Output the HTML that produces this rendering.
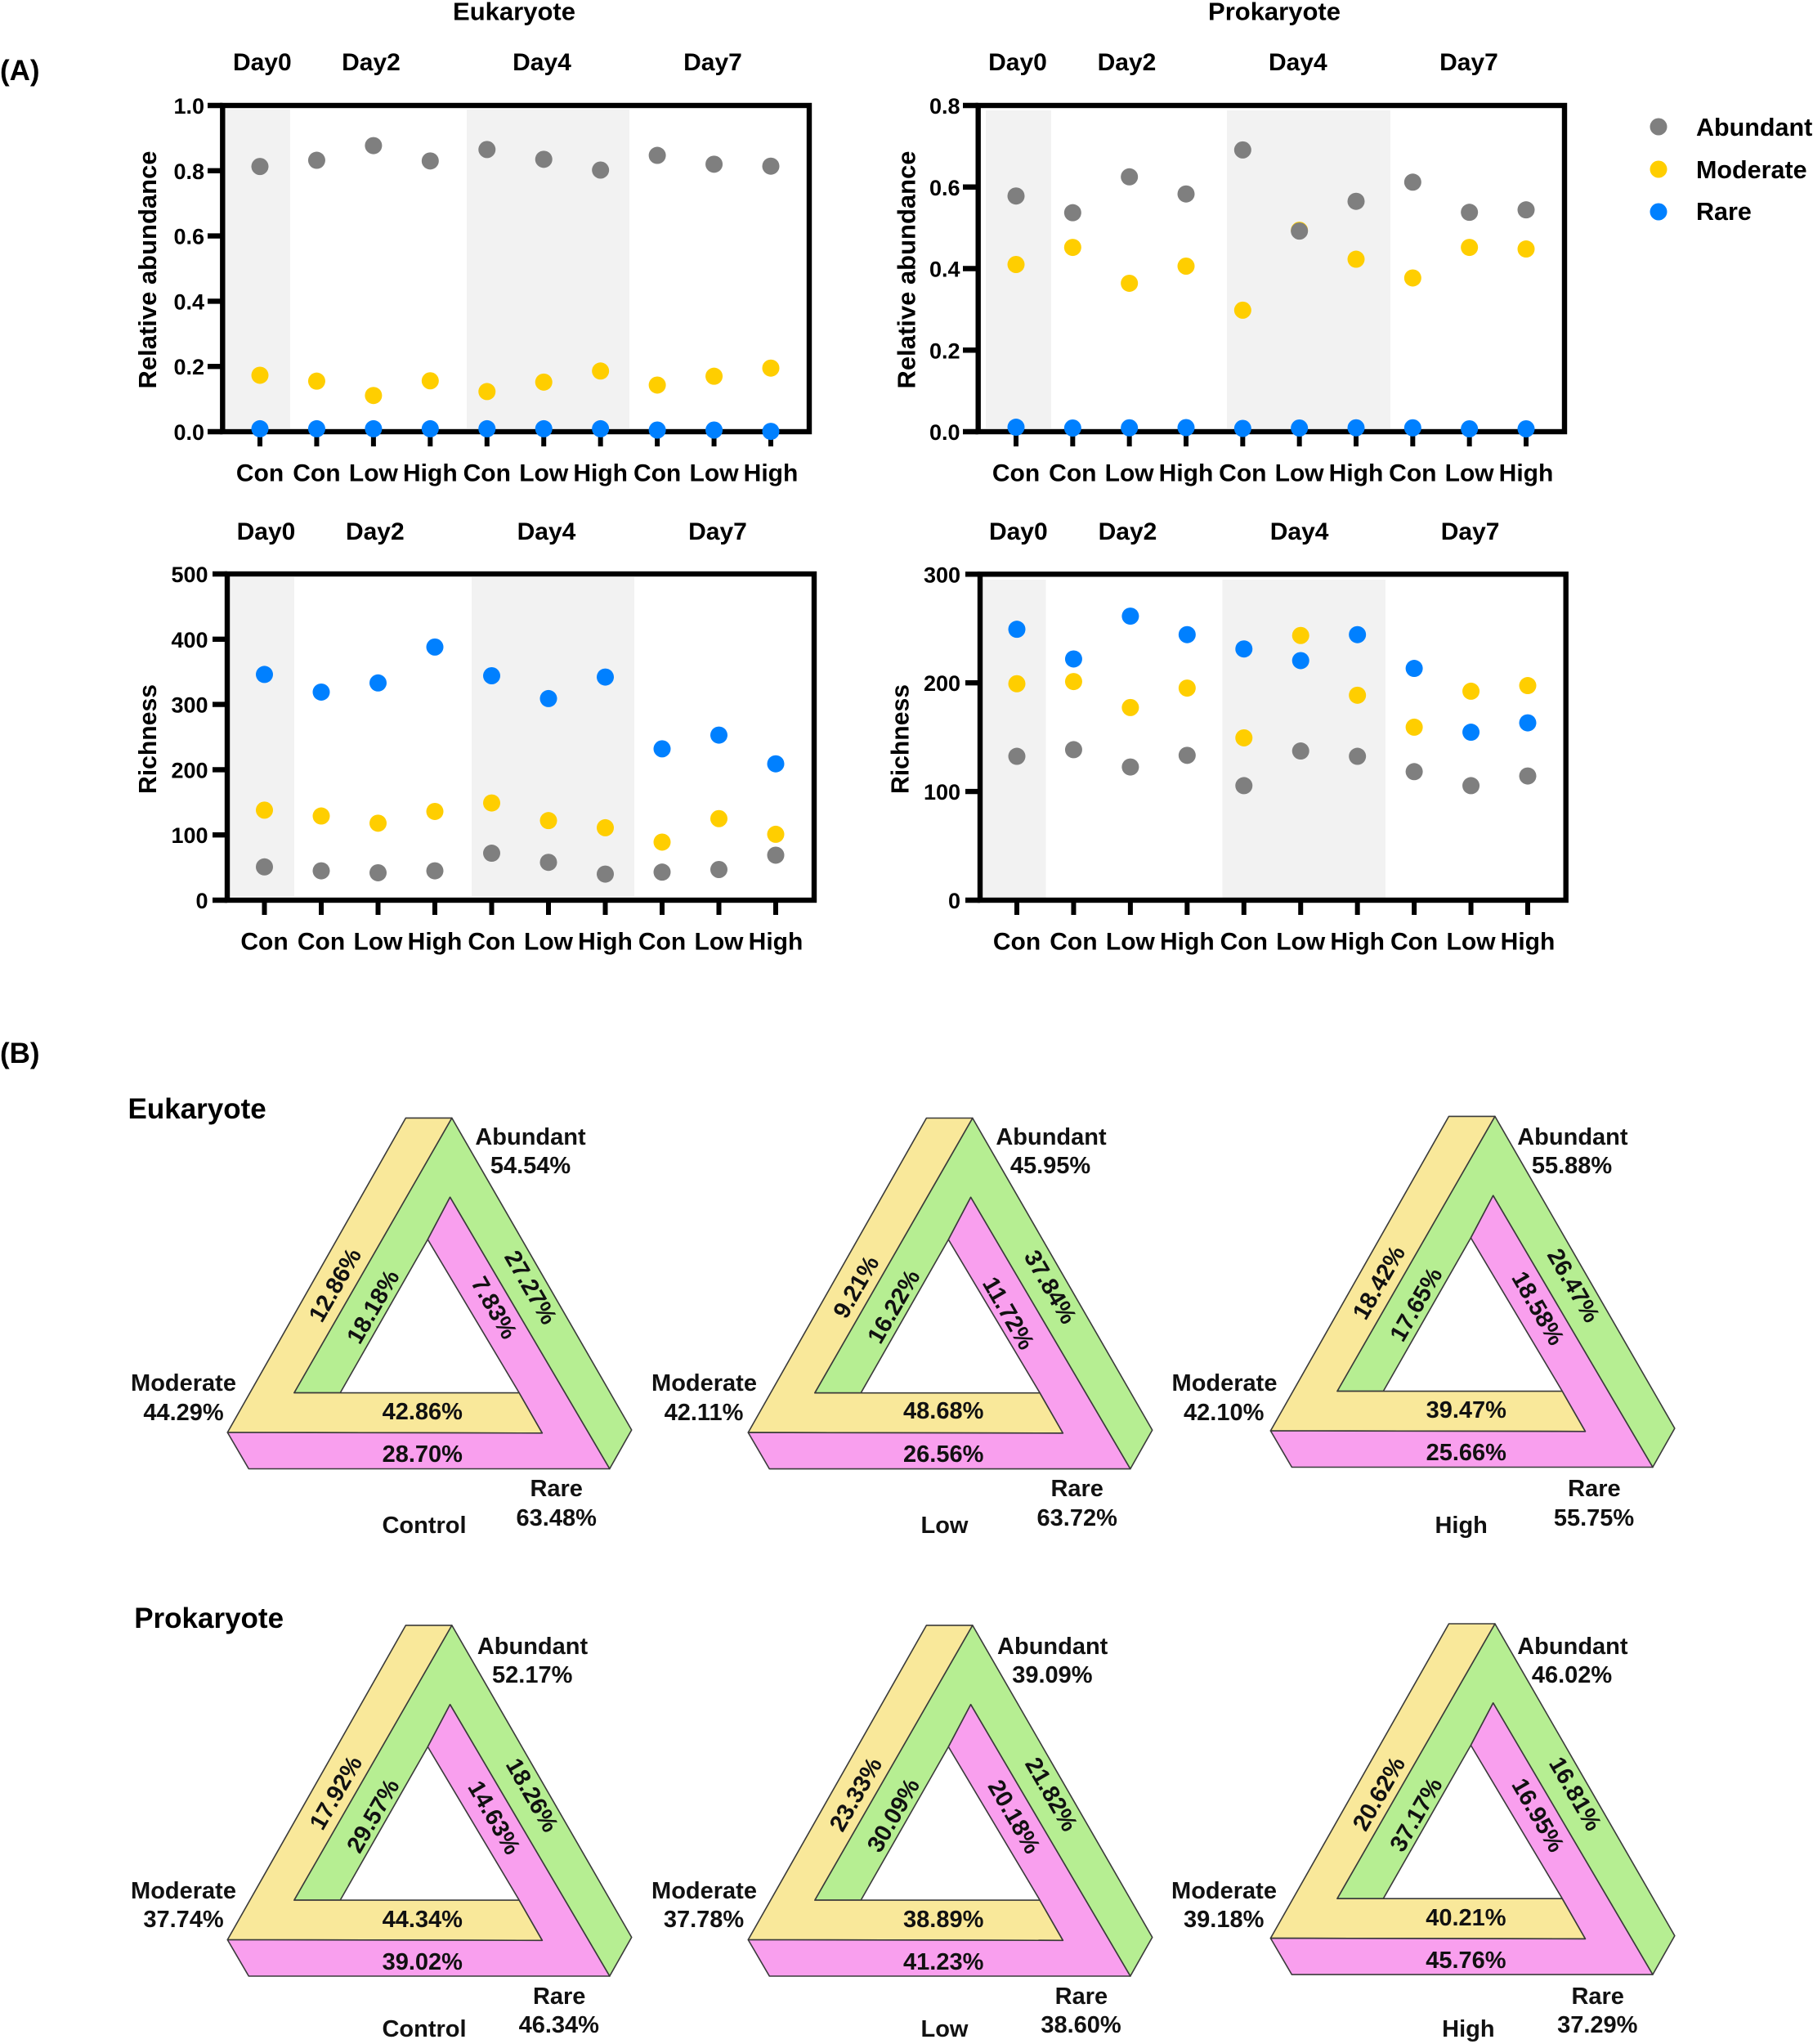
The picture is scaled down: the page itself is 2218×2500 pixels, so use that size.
<!DOCTYPE html>
<html lang="en">
<head>
<meta charset="utf-8">
<title>Relative abundance and richness of eukaryote and prokaryote taxa</title>
<style>
html,body{margin:0;padding:0;background:#fff;}
svg{display:block;font-family:"Liberation Sans",Arial,sans-serif;font-weight:bold;fill:#000;}
.t{font-size:29px;text-anchor:middle;fill:#111;}
.y{fill:#f9e89a;stroke:#3a3a3a;stroke-width:1.6;stroke-linejoin:round;}
.g{fill:#b6ee92;stroke:#3a3a3a;stroke-width:1.6;stroke-linejoin:round;}
.p{fill:#f99fee;stroke:#3a3a3a;stroke-width:1.6;stroke-linejoin:round;}
</style>
</head>
<body>
<svg id="figure" width="2218" height="2500" viewBox="0 0 2218 2500" xmlns="http://www.w3.org/2000/svg">
<rect width="2218" height="2500" fill="#fff"/>
<text x="0" y="98" font-size="35">(A)</text>
<text x="0" y="1300" font-size="35">(B)</text>
<text x="629" y="24.5" font-size="31" text-anchor="middle">Eukaryote</text>
<text x="1559" y="24.5" font-size="31" text-anchor="middle">Prokaryote</text>

<g id="charts"></g>

<g>
<circle cx="2029" cy="155" r="10.5" fill="#7f7f7f"/>
<text x="2075" y="166" font-size="30.5">Abundant</text>
<circle cx="2029" cy="207" r="10.5" fill="#ffce00"/>
<text x="2075" y="218" font-size="30.5">Moderate</text>
<circle cx="2029" cy="259" r="10.5" fill="#0080ff"/>
<text x="2075" y="269" font-size="30.5">Rare</text>
</g>

<text x="156.5" y="1368" font-size="35">Eukaryote</text>
<text x="164.2" y="1991" font-size="35">Prokaryote</text>

<!-- Eukaryote Control -->
<g>
<g transform="translate(496.4,1367.4)">
<polygon class="g" points="56.4,0 276.3,381.6 249.4,429.1 54.2,96.9 26.9,148.6 -80.2,336.2 -136.6,336.2"/>
<polygon class="y" points="0,0 56.4,0 -136.6,336.2 138.8,336.2 167,385.4 -218.1,384.6"/>
<polygon class="p" points="54.2,96.9 249.4,429.1 -192.1,429.1 -218.1,384.6 167,385.4 138.8,336.2 26.9,148.6"/>
</g>
<text class="t" x="649" y="1400">Abundant</text>
<text class="t" x="649" y="1435">54.54%</text>
<text class="t" x="224.5" y="1701">Moderate</text>
<text class="t" x="224.5" y="1737">44.29%</text>
<text class="t" x="680.7" y="1830">Rare</text>
<text class="t" x="680.7" y="1866">63.48%</text>
<text class="t" x="519" y="1875">Control</text>
<text class="t" x="516.8" y="1736">42.86%</text>
<text class="t" x="516.8" y="1788">28.70%</text>
<text class="t" y="10" transform="translate(409.7,1571.6) rotate(-60)">12.86%</text>
<text class="t" y="10" transform="translate(456.1,1598.2) rotate(-60)">18.18%</text>
<text class="t" y="10" transform="translate(649.5,1574.5) rotate(60)">27.27%</text>
<text class="t" y="10" transform="translate(604.8,1599.3) rotate(60)">7.83%</text>
</g>

<!-- Eukaryote Low -->
<g>
<g transform="translate(1133.4,1367.5)">
<polygon class="g" points="56.4,0 276.3,381.6 249.4,429.1 54.2,96.9 26.9,148.6 -80.2,336.2 -136.6,336.2"/>
<polygon class="y" points="0,0 56.4,0 -136.6,336.2 138.8,336.2 167,385.4 -218.1,384.6"/>
<polygon class="p" points="54.2,96.9 249.4,429.1 -192.1,429.1 -218.1,384.6 167,385.4 138.8,336.2 26.9,148.6"/>
</g>
<text class="t" x="1286" y="1400">Abundant</text>
<text class="t" x="1285" y="1435">45.95%</text>
<text class="t" x="861.5" y="1701">Moderate</text>
<text class="t" x="861" y="1737">42.11%</text>
<text class="t" x="1317.7" y="1830">Rare</text>
<text class="t" x="1317.7" y="1866">63.72%</text>
<text class="t" x="1155.5" y="1875">Low</text>
<text class="t" x="1154.2" y="1735">48.68%</text>
<text class="t" x="1154.2" y="1788">26.56%</text>
<text class="t" y="10" transform="translate(1047.1,1573.9) rotate(-60)">9.21%</text>
<text class="t" y="10" transform="translate(1093.1,1597.9) rotate(-60)">16.22%</text>
<text class="t" y="10" transform="translate(1285.2,1573.9) rotate(60)">37.84%</text>
<text class="t" y="10" transform="translate(1234,1606) rotate(60)">11.72%</text>
</g>

<!-- Eukaryote High -->
<g>
<g transform="translate(1772.5,1365.4)">
<polygon class="g" points="56.4,0 276.3,381.6 249.4,429.1 54.2,96.9 26.9,148.6 -80.2,336.2 -136.6,336.2"/>
<polygon class="y" points="0,0 56.4,0 -136.6,336.2 138.8,336.2 167,385.4 -218.1,384.6"/>
<polygon class="p" points="54.2,96.9 249.4,429.1 -192.1,429.1 -218.1,384.6 167,385.4 138.8,336.2 26.9,148.6"/>
</g>
<text class="t" x="1923.9" y="1400">Abundant</text>
<text class="t" x="1923" y="1435">55.88%</text>
<text class="t" x="1498" y="1701">Moderate</text>
<text class="t" x="1497.2" y="1737">42.10%</text>
<text class="t" x="1950.4" y="1830">Rare</text>
<text class="t" x="1950" y="1866">55.75%</text>
<text class="t" x="1787.7" y="1875">High</text>
<text class="t" x="1793.8" y="1734">39.47%</text>
<text class="t" x="1793.8" y="1786">25.66%</text>
<text class="t" y="10" transform="translate(1686.7,1568.6) rotate(-60)">18.42%</text>
<text class="t" y="10" transform="translate(1732.2,1595.4) rotate(-60)">17.65%</text>
<text class="t" y="10" transform="translate(1925.2,1572.1) rotate(60)">26.47%</text>
<text class="t" y="10" transform="translate(1881.8,1600) rotate(60)">18.58%</text>
</g>

<!-- Prokaryote Control -->
<g>
<g transform="translate(496.4,1987.9)">
<polygon class="g" points="56.4,0 276.3,381.6 249.4,429.1 54.2,96.9 26.9,148.6 -80.2,336.2 -136.6,336.2"/>
<polygon class="y" points="0,0 56.4,0 -136.6,336.2 138.8,336.2 167,385.4 -218.1,384.6"/>
<polygon class="p" points="54.2,96.9 249.4,429.1 -192.1,429.1 -218.1,384.6 167,385.4 138.8,336.2 26.9,148.6"/>
</g>
<text class="t" x="651.5" y="2023">Abundant</text>
<text class="t" x="651.2" y="2058">52.17%</text>
<text class="t" x="224.5" y="2322">Moderate</text>
<text class="t" x="224.5" y="2357">37.74%</text>
<text class="t" x="684.2" y="2451">Rare</text>
<text class="t" x="683.8" y="2486">46.34%</text>
<text class="t" x="519" y="2491">Control</text>
<text class="t" x="516.8" y="2357">44.34%</text>
<text class="t" x="516.8" y="2409">39.02%</text>
<text class="t" y="10" transform="translate(410.6,2192.7) rotate(-60)">17.92%</text>
<text class="t" y="10" transform="translate(456.1,2220.8) rotate(-60)">29.57%</text>
<text class="t" y="10" transform="translate(651.2,2195.5) rotate(60)">18.26%</text>
<text class="t" y="10" transform="translate(604.8,2222.9) rotate(60)">14.63%</text>
</g>

<!-- Prokaryote Low -->
<g>
<g transform="translate(1133.4,1987.9)">
<polygon class="g" points="56.4,0 276.3,381.6 249.4,429.1 54.2,96.9 26.9,148.6 -80.2,336.2 -136.6,336.2"/>
<polygon class="y" points="0,0 56.4,0 -136.6,336.2 138.8,336.2 167,385.4 -218.1,384.6"/>
<polygon class="p" points="54.2,96.9 249.4,429.1 -192.1,429.1 -218.1,384.6 167,385.4 138.8,336.2 26.9,148.6"/>
</g>
<text class="t" x="1287.7" y="2023">Abundant</text>
<text class="t" x="1287.4" y="2058">39.09%</text>
<text class="t" x="861.5" y="2322">Moderate</text>
<text class="t" x="861" y="2357">37.78%</text>
<text class="t" x="1322.9" y="2451">Rare</text>
<text class="t" x="1322.5" y="2486">38.60%</text>
<text class="t" x="1155.5" y="2491">Low</text>
<text class="t" x="1154.2" y="2357">38.89%</text>
<text class="t" x="1154.2" y="2409">41.23%</text>
<text class="t" y="10" transform="translate(1046.7,2194.5) rotate(-60)">23.33%</text>
<text class="t" y="10" transform="translate(1092.7,2220.1) rotate(-60)">30.09%</text>
<text class="t" y="10" transform="translate(1286.5,2194.5) rotate(60)">21.82%</text>
<text class="t" y="10" transform="translate(1241,2221.8) rotate(60)">20.18%</text>
</g>

<!-- Prokaryote High -->
<g>
<g transform="translate(1772.5,1986)">
<polygon class="g" points="56.4,0 276.3,381.6 249.4,429.1 54.2,96.9 26.9,148.6 -80.2,336.2 -136.6,336.2"/>
<polygon class="y" points="0,0 56.4,0 -136.6,336.2 138.8,336.2 167,385.4 -218.1,384.6"/>
<polygon class="p" points="54.2,96.9 249.4,429.1 -192.1,429.1 -218.1,384.6 167,385.4 138.8,336.2 26.9,148.6"/>
</g>
<text class="t" x="1923.9" y="2023">Abundant</text>
<text class="t" x="1923" y="2058">46.02%</text>
<text class="t" x="1497.5" y="2322">Moderate</text>
<text class="t" x="1497.2" y="2357">39.18%</text>
<text class="t" x="1954.7" y="2451">Rare</text>
<text class="t" x="1954.3" y="2486">37.29%</text>
<text class="t" x="1796.4" y="2491">High</text>
<text class="t" x="1793.4" y="2355">40.21%</text>
<text class="t" x="1793.4" y="2407">45.76%</text>
<text class="t" y="10" transform="translate(1686.7,2193.8) rotate(-60)">20.62%</text>
<text class="t" y="10" transform="translate(1732.2,2219.4) rotate(-60)">37.17%</text>
<text class="t" y="10" transform="translate(1927.4,2193.8) rotate(60)">16.81%</text>
<text class="t" y="10" transform="translate(1881.8,2220) rotate(60)">16.95%</text>
</g>
</svg>

<script>
// ---- shared categories ----
const categories = ["Con","Con","Low","High","Con","Low","High","Con","Low","High"];
const dayLabels = ["Day0","Day2","Day4","Day7"];
const seriesColors = {abundant:"#7f7f7f", moderate:"#ffce00", rare:"#0080ff"};

// ---- Eukaryote relative abundance ----
const eukRelAbundant = [0.813,0.832,0.877,0.830,0.865,0.835,0.802,0.847,0.820,0.814];
const eukRelModerate = [0.173,0.155,0.111,0.156,0.123,0.152,0.186,0.143,0.170,0.195];
const eukRelRare     = [0.009,0.009,0.009,0.009,0.009,0.009,0.009,0.005,0.005,0.001];
const eukRelTicks    = [0,0.2,0.4,0.6,0.8,1.0];
const eukRelTickLabels = ["0.0","0.2","0.4","0.6","0.8","1.0"];

// ---- Prokaryote relative abundance ----
const proRelAbundant = [0.578,0.537,0.625,0.583,0.691,0.492,0.565,0.612,0.538,0.544];
const proRelModerate = [0.410,0.452,0.364,0.406,0.298,0.494,0.423,0.377,0.452,0.448];
const proRelRare     = [0.011,0.009,0.0095,0.010,0.008,0.009,0.0095,0.0095,0.007,0.007];
const proRelTicks    = [0,0.2,0.4,0.6,0.8];
const proRelTickLabels = ["0.0","0.2","0.4","0.6","0.8"];

// ---- Eukaryote richness ----
const eukRichAbundant = [51,45,42,45,72,58,40,43,47,69];
const eukRichModerate = [138,129,118,136,149,122,111,89,125,101];
const eukRichRare     = [346,319,333,388,344,309,342,232,253,209];
const eukRichTicks    = [0,100,200,300,400,500];
const eukRichTickLabels = ["0","100","200","300","400","500"];

// ---- Prokaryote richness ----
const proRichAbundant = [132.4,138.5,122.6,133.3,105.4,137.3,132.4,118.3,105.4,114.3];
const proRichModerate = [199.2,201.2,177.3,195.2,149.4,243.6,188.6,159.2,192.3,197.5];
const proRichRare     = [249.3,222,261.4,244.4,231.2,220.5,244.4,213.3,154.6,163.2];
const proRichTicks    = [0,100,200,300];
const proRichTickLabels = ["0","100","200","300"];

const NS = "http://www.w3.org/2000/svg";
const root = document.getElementById("charts");

function make(tag, attrs, parent, text) {
  const el = document.createElementNS(NS, tag);
  for (const k in attrs) el.setAttribute(k, attrs[k]);
  if (text !== undefined) el.textContent = text;
  parent.appendChild(el);
  return el;
}

function drawChart(cfg) {
  const g = make("g", {}, root);
  
  

  const yMax = cfg.ticks[cfg.ticks.length - 1];
  const xScale = i => cfg.x0 + i * (cfg.x9 - cfg.x0) / (categories.length - 1);
  const yScale = v => cfg.bottom - (v / yMax) * (cfg.bottom - cfg.top);

  // shaded day bands
  cfg.bands.forEach(b => {
    const r = make("rect", {x:b[0], y:cfg.bandTop, width:b[1]-b[0], height:cfg.bandBottom-cfg.bandTop, fill:"#f2f2f2"}, g);
    
    
  });

  // frame
  const frame = make("rect", {x:cfg.left, y:cfg.top, width:cfg.right-cfg.left, height:cfg.bottom-cfg.top, fill:"none", stroke:"#000", "stroke-width":6.4}, g);
  
  

  // y ticks and labels
  cfg.ticks.forEach((v, i) => {
    const tick = make("line", {x1:cfg.tickLeft, x2:cfg.left, y1:yScale(v), y2:yScale(v), stroke:"#000", "stroke-width":6.4}, g);
    
    
    const label = make("text", {x:cfg.labelRight, y:yScale(v) + 10, "font-size":27, "text-anchor":"end"}, g, cfg.tickLabels[i]);
    
    
  });

  // x ticks and labels
  categories.forEach((c, i) => {
    const tick = make("line", {x1:xScale(i), x2:xScale(i), y1:cfg.bottom, y2:cfg.bottom + 18, stroke:"#000", "stroke-width":6}, g);
    
    
    const label = make("text", {x:xScale(i), y:cfg.bottom + 60.5, "font-size":30, "text-anchor":"middle"}, g, c);
    
    
  });

  // day labels
  dayLabels.forEach((d, i) => {
    const label = make("text", {x:cfg.dayX[i], y:cfg.dayY, "font-size":30, "text-anchor":"middle"}, g, d);
    
    
  });

  // y axis title
  const title = make("text", {transform:"translate(" + cfg.titleX + "," + cfg.titleY + ") rotate(-90)", y:10, "font-size":31, "text-anchor":"middle", textLength:cfg.titleLen, lengthAdjust:"spacingAndGlyphs"}, g, cfg.title);
  
  

  // points
  cfg.series.forEach(s => {
    s.values.forEach((v, i) => {
      const dot = make("circle", {cx:xScale(i), cy:yScale(v), r:10.5, fill:seriesColors[s.key]}, g);
      
      
    });
  });
}

drawChart({
  name:"eukaryote-relative-abundance-chart",
  left:272.3, right:990, top:129, bottom:528, tickLeft:254, labelRight:250,
  x0:318, x9:943, bandTop:134, bandBottom:524, bands:[[275.5,355],[571,770]],
  dayX:[320.8,454,663,872], dayY:86,
  title:"Relative abundance", titleX:181, titleY:330, titleLen:291,
  ticks:eukRelTicks, tickLabels:eukRelTickLabels,
  series:[{key:"moderate",values:eukRelModerate},{key:"abundant",values:eukRelAbundant},{key:"rare",values:eukRelRare}]
});
drawChart({
  name:"prokaryote-relative-abundance-chart",
  left:1196.7, right:1914, top:129, bottom:528, tickLeft:1178, labelRight:1174.5,
  x0:1243, x9:1867, bandTop:135, bandBottom:524, bands:[[1206,1286],[1501,1701]],
  dayX:[1245,1378.5,1587.8,1797], dayY:86,
  title:"Relative abundance", titleX:1109.6, titleY:330, titleLen:291,
  ticks:proRelTicks, tickLabels:proRelTickLabels,
  series:[{key:"moderate",values:proRelModerate},{key:"abundant",values:proRelAbundant},{key:"rare",values:proRelRare}]
});
drawChart({
  name:"eukaryote-richness-chart",
  left:278, right:996, top:702, bottom:1101, tickLeft:260, labelRight:254.5,
  x0:323.5, x9:949, bandTop:706, bandBottom:1096, bands:[[281,360],[577,776]],
  dayX:[325.5,458.8,668.5,878], dayY:660,
  title:"Richness", titleX:181, titleY:904, titleLen:134,
  ticks:eukRichTicks, tickLabels:eukRichTickLabels,
  series:[{key:"moderate",values:eukRichModerate},{key:"abundant",values:eukRichAbundant},{key:"rare",values:eukRichRare}]
});
drawChart({
  name:"prokaryote-richness-chart",
  left:1199, right:1915.7, top:702.3, bottom:1101, tickLeft:1181, labelRight:1175,
  x0:1244, x9:1869, bandTop:709, bandBottom:1098, bands:[[1202,1279.6],[1495.5,1695]],
  dayX:[1245.8,1379.5,1589.6,1798.6], dayY:660,
  title:"Richness", titleX:1101.7, titleY:904, titleLen:134,
  ticks:proRichTicks, tickLabels:proRichTickLabels,
  series:[{key:"moderate",values:proRichModerate},{key:"abundant",values:proRichAbundant},{key:"rare",values:proRichRare}]
});
</script>
</body>
</html>
